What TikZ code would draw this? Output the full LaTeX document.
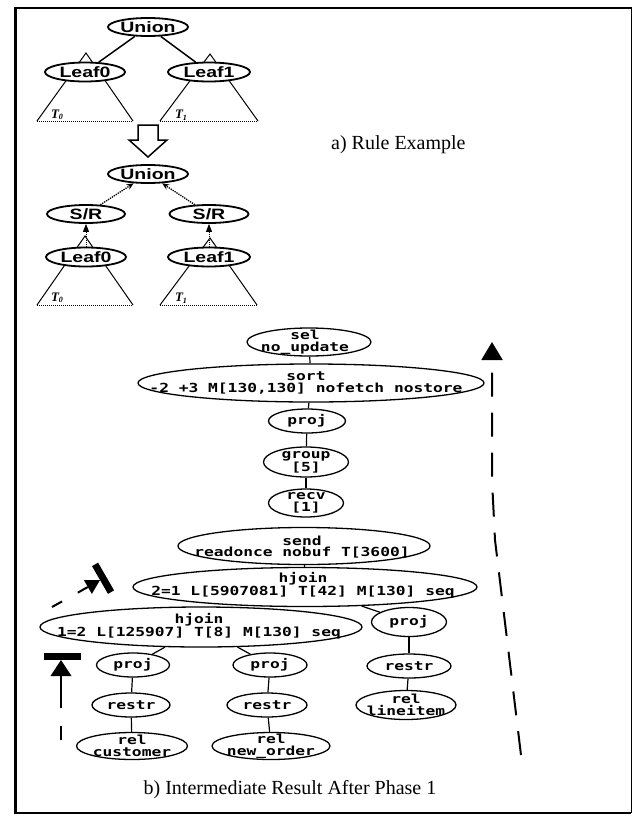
\documentclass[tikz,border=0pt]{standalone}
\usepackage{fontspec}
\setmainfont{Liberation Serif}
\newfontfamily\hvb[FakeStretch=1.3]{Liberation Sans}
\newfontfamily\scr[FakeStretch=1.3]{DejaVu Sans Mono}
\usetikzlibrary{shapes.geometric,arrows.meta}
\tikzset{
  topov/.style={ellipse, draw, line width=1.8pt, fill=white, inner sep=0pt},
  botov/.style={ellipse, draw, line width=1.3pt, inner sep=0pt},
  toptx/.style={font=\hvb\bfseries\fontsize{15}{15}\selectfont, inner sep=0pt},
  bottx/.style={font=\scr\bfseries\fontsize{12.5}{11.5}\selectfont, align=center, inner sep=0pt},
  tlab/.style={font=\bfseries\itshape\fontsize{13}{13}\selectfont, inner sep=0pt},
  captiontext/.style={font=\fontsize{20}{22}\selectfont, inner sep=0pt},
  edgeline/.style={line width=1.5pt},
  treeline/.style={line width=1.2pt},
  subtri/.style={line width=1pt},
  cutline/.style={line width=2pt},
}
\begin{document}
\begin{tikzpicture}[x=1pt,y=-1pt]
\useasboundingbox (0,0) rectangle (632,817);
% frame
\draw[line width=1.6pt] (15,8) -- (632,8);
\draw[line width=1pt] (631,8) -- (631,813);
\draw[line width=1.4pt] (15,813) -- (631,813);
\draw[line width=3pt] (15,7) -- (15,814);

% ---------- a) rule example ----------
\coordinate (ta0) at (86,53);  \coordinate (ta0l) at (37,121); \coordinate (ta0r) at (133,121);
\coordinate (ta1) at (210,54); \coordinate (ta1l) at (160,121); \coordinate (ta1r) at (258,121);
\coordinate (tb0) at (85,236); \coordinate (tb0l) at (37,305); \coordinate (tb0r) at (133,305);
\coordinate (tb1) at (210,238); \coordinate (tb1l) at (160,305); \coordinate (tb1r) at (257,305);
\draw[subtri] (ta0l) -- (ta0) -- (ta0r);
\draw[subtri, densely dotted] (ta0l) -- (ta0r);
\draw[subtri] (ta1l) -- (ta1) -- (ta1r);
\draw[subtri, densely dotted] (ta1l) -- (ta1r);
\draw[subtri] (tb0l) -- (tb0) -- (tb0r);
\draw[subtri, densely dotted] (tb0l) -- (tb0r);
\draw[subtri] (tb1l) -- (tb1) -- (tb1r);
\draw[subtri, densely dotted] (tb1l) -- (tb1r);

\node[topov, minimum width=80pt, minimum height=18pt] (unionA) at (148,27) {};
\node[topov, minimum width=80pt, minimum height=19pt] (leafA0) at (85,72) {};
\node[topov, minimum width=82pt, minimum height=19pt] (leafA1) at (209,72) {};
\node[toptx] (unionAt) at (unionA.center) {Union};
\node[toptx] (leafA0t) at (leafA0.center) {Leaf0};
\node[toptx] (leafA1t) at (leafA1.center) {Leaf1};
\draw[edgeline] (unionA) -- (leafA0);
\draw[edgeline] (unionA) -- (leafA1);

\node[tlab] (tA0) at (57,115) {T\raisebox{-1.5pt}{\fontsize{8}{8}\selectfont 0}};
\node[tlab] (tA1) at (181,115) {T\raisebox{-1.5pt}{\fontsize{8}{8}\selectfont 1}};

% hollow arrow
\draw[line width=1.5pt, fill=white] (138,125) -- (158,125) -- (158,140) -- (167,140)
  -- (148,157) -- (129,140) -- (138,140) -- cycle;

\node[topov, minimum width=80pt, minimum height=18pt] (unionB) at (148,174) {};
\node[topov, minimum width=78pt, minimum height=18pt] (srB0) at (86,214) {};
\node[topov, minimum width=79pt, minimum height=18pt] (srB1) at (209,214) {};
\node[topov, minimum width=80pt, minimum height=19pt] (leafB0) at (86,257) {};
\node[topov, minimum width=82pt, minimum height=19pt] (leafB1) at (209,257) {};
\node[toptx] (unionBt) at (unionB.center) {Union};
\node[toptx] (srB0t) at (srB0.center) {S/R};
\node[toptx] (srB1t) at (srB1.center) {S/R};
\node[toptx] (leafB0t) at (leafB0.center) {Leaf0};
\node[toptx] (leafB1t) at (leafB1.center) {Leaf1};
\draw[line width=1.3pt, densely dotted, -{Stealth[length=7pt,width=6pt]}] (srB0) -- (unionB);
\draw[line width=1.3pt, densely dotted, -{Stealth[length=7pt,width=6pt]}] (srB1) -- (unionB);
\draw[line width=1pt, densely dotted, -{Triangle[length=8pt,width=6pt]}] (leafB0) -- (srB0);
\draw[line width=1pt, densely dotted, -{Triangle[length=8pt,width=6pt]}] (leafB1) -- (srB1);

\node[tlab] (tB0) at (57,298) {T\raisebox{-1.5pt}{\fontsize{8}{8}\selectfont 0}};
\node[tlab] (tB1) at (181,298) {T\raisebox{-1.5pt}{\fontsize{8}{8}\selectfont 1}};

\node[captiontext, anchor=west] (capA) at (331,145) {a) Rule Example};

% ---------- b) intermediate result ----------
\node[botov, minimum width=124pt, minimum height=28pt] (sel) at (309,342) {};
\node[botov, minimum width=346pt, minimum height=38pt] (sort) at (311,383) {};
\node[botov, minimum width=77pt, minimum height=24pt] (projT) at (307,421) {};
\node[botov, minimum width=85pt, minimum height=30pt] (group) at (306,462) {};
\node[botov, minimum width=75pt, minimum height=28pt] (recv) at (306,503) {};
\node[botov, minimum width=252pt, minimum height=37pt] (send) at (304,546) {};
\node[botov, minimum width=344pt, minimum height=39pt] (hjA) at (305,587) {};
\node[botov, minimum width=322pt, minimum height=40pt] (hjB) at (201,627) {};
\node[botov, minimum width=75pt, minimum height=29pt] (projR) at (409,622) {};
\node[botov, minimum width=84pt, minimum height=24pt] (restrR) at (409,666) {};
\node[botov, minimum width=100pt, minimum height=29pt] (relR) at (406,705) {};
\node[botov, minimum width=73pt, minimum height=24pt] (projL) at (133,665) {};
\node[botov, minimum width=74pt, minimum height=24pt] (projM) at (270,665) {};
\node[botov, minimum width=78pt, minimum height=24pt] (restrL) at (131,705) {};
\node[botov, minimum width=80pt, minimum height=24pt] (restrM) at (267,705) {};
\node[botov, minimum width=111pt, minimum height=27pt] (relL) at (132,746) {};
\node[botov, minimum width=118pt, minimum height=27pt] (relM) at (271,746) {};

\node[bottx] (selt) at (305,342) {sel\\no\_update};
\node[bottx] (sortt) at (306,383) {sort\\-2 +3 M[130,130] nofetch nostore};
\node[bottx] (projTt) at (projT.center) {proj};
\node[bottx] (groupt) at (group.center) {group\\{}[5]};
\node[bottx] (recvt) at (recv.center) {recv\\{}[1]};
\node[bottx] (sendt) at (302,547) {send\\readonce nobuf T[3600]};
\node[bottx] (hjAt) at (303,585) {hjoin\\2=1 L[5907081] T[42] M[130] seq};
\node[bottx] (hjBt) at (199,626) {hjoin\\1=2 L[125907] T[8] M[130] seq};
\node[bottx] (projRt) at (projR.center) {proj};
\node[bottx] (restrRt) at (restrR.center) {restr};
\node[bottx] (relRt) at (relR.center) {rel\\lineitem};
\node[bottx] (projLt) at (projL.center) {proj};
\node[bottx] (projMt) at (projM.center) {proj};
\node[bottx] (restrLt) at (restrL.center) {restr};
\node[bottx] (restrMt) at (restrM.center) {restr};
\node[bottx] (relLt) at (relL.center) {rel\\customer};
\node[bottx] (relMt) at (relM.center) {rel\\new\_order};

\draw[treeline] (sel) -- (sort);
\draw[treeline] (sort) -- (projT);
\draw[treeline] (projT) -- (group);
\draw[treeline] (group) -- (recv);
\draw[treeline] (send) -- (hjA);
\draw[treeline] (hjA) -- (projR);
\draw[treeline] (hjB) -- (projL);
\draw[treeline] (hjB) -- (projM);
\draw[treeline] (projL) -- (restrL);
\draw[treeline] (restrL) -- (relL);
\draw[treeline] (projM) -- (restrM);
\draw[treeline] (restrM) -- (relM);
\draw[treeline] (projR) -- (restrR);
\draw[treeline] (restrR) -- (relR);

% right dashed arrow
\coordinate (rBot) at (521,755);
\coordinate (rMid) at (495,540);
\coordinate (rUp) at (492,480);
\coordinate (rTop) at (492,342);
\draw[cutline, dash pattern=on 24pt off 16pt, -{Triangle[length=18pt,width=21pt]}]
  (rBot) -- (rMid) -- (rUp) -- (rTop);

% lower-left cut marker
\coordinate (cutL) at (61,660);
\coordinate (cutLend) at (61,740);
\begin{scope}[shift={(cutL)}]
  \fill (-17,-7) rectangle (20,0);
  \fill (0,0) -- (-10.5,16) -- (10.5,16) -- cycle;
\end{scope}
\draw[cutline, dash pattern=on 14pt off 18pt on 60pt] (cutLend) -- ([yshift=-16pt]cutL);

% upper cut marker
\coordinate (cutU) at (100,580);
\coordinate (cutUend) at (52,607);
\begin{scope}[shift={(cutU)}, rotate=-60]
  \fill (-16,-7) rectangle (16,0);
  \fill (0,0) -- (-8,14) -- (8,14) -- cycle;
  \coordinate (cutUbase) at (0,14);
\end{scope}
\draw[cutline, dash pattern=on 11.5pt off 18pt on 30pt] (cutUend) -- (cutUbase);

\node[captiontext] (capB) at (290,790) {b) Intermediate Result After Phase 1};
\end{tikzpicture}
\end{document}
